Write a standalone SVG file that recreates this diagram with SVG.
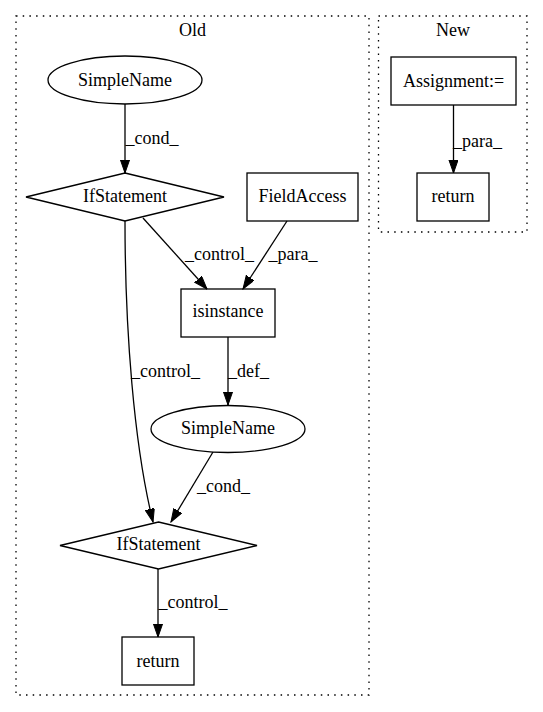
<svg xmlns="http://www.w3.org/2000/svg" width="543" height="712" viewBox="0 0 543 712">
<style>
.cl{fill:none;stroke:#000;stroke-width:1.3;stroke-dasharray:1.5,5.2}
.n{fill:none;stroke:#000;stroke-width:1.3}
.e{fill:none;stroke:#000;stroke-width:1.3;marker-end:url(#ah)}
</style>
<defs>
<marker id="ah" markerWidth="14" markerHeight="10" refX="13.3" refY="4.65" orient="auto" markerUnits="userSpaceOnUse">
<path d="M0,0 L13.3,4.65 L0,9.3 z" fill="#000" stroke="#000" stroke-width="1"/>
</marker>
</defs>
<rect width="543" height="712" fill="#fff"/>
<g font-family="'Liberation Serif', 'Times New Roman', serif" font-size="18" text-anchor="middle" fill="#000">
<g id="cluster_old">
<rect class="cl" x="16" y="16" width="353" height="679"/>
<text x="192.5" y="36">Old</text>
</g>
<g id="cluster_new">
<rect class="cl" x="378.5" y="16" width="148.5" height="216"/>
<text x="453" y="36">New</text>
</g>
<g id="edges">
<path class="e" d="M125,104 L125,173"/>
<text x="152" y="144">_cond_</text>
<path class="e" d="M143,218 L207,289"/>
<text x="219.5" y="260">_control_</text>
<path class="e" d="M287,221 L243,289"/>
<text x="293" y="260">_para_</text>
<path class="e" d="M125,221 C125,330 134,445 153,522"/>
<text x="165.5" y="377">_control_</text>
<path class="e" d="M228,337 L228,405"/>
<text x="248.5" y="377">_def_</text>
<path class="e" d="M213,452 L171,522"/>
<text x="223.5" y="492">_cond_</text>
<path class="e" d="M158,569 L158,637"/>
<text x="193" y="608">_control_</text>
<path class="e" d="M453.5,105 L453.5,173"/>
<text x="477.5" y="147">_para_</text>
</g>
<g id="simplename1">
<ellipse class="n" cx="125" cy="80" rx="77" ry="24"/>
<text x="125" y="86">SimpleName</text>
</g>
<g id="ifstatement1">
<polygon class="n" points="125,173 224,197 125,221 26,197"/>
<text x="125" y="202">IfStatement</text>
</g>
<g id="fieldaccess">
<rect class="n" x="247" y="173" width="111" height="48"/>
<text x="302.5" y="202">FieldAccess</text>
</g>
<g id="isinstance">
<rect class="n" x="181" y="289" width="94" height="48"/>
<text x="228" y="317">isinstance</text>
</g>
<g id="simplename2">
<ellipse class="n" cx="228" cy="429" rx="77" ry="23.5"/>
<text x="228" y="434">SimpleName</text>
</g>
<g id="ifstatement2">
<polygon class="n" points="158.5,522 257,545.5 158.5,569 60,545.5"/>
<text x="158.5" y="550">IfStatement</text>
</g>
<g id="return_old">
<rect class="n" x="122" y="637" width="72" height="48"/>
<text x="158" y="667">return</text>
</g>
<g id="assignment">
<rect class="n" x="391" y="57" width="125" height="48"/>
<text x="453.5" y="87">Assignment:=</text>
</g>
<g id="return_new">
<rect class="n" x="417" y="173" width="72" height="48"/>
<text x="453" y="202">return</text>
</g>
</g>
</svg>
